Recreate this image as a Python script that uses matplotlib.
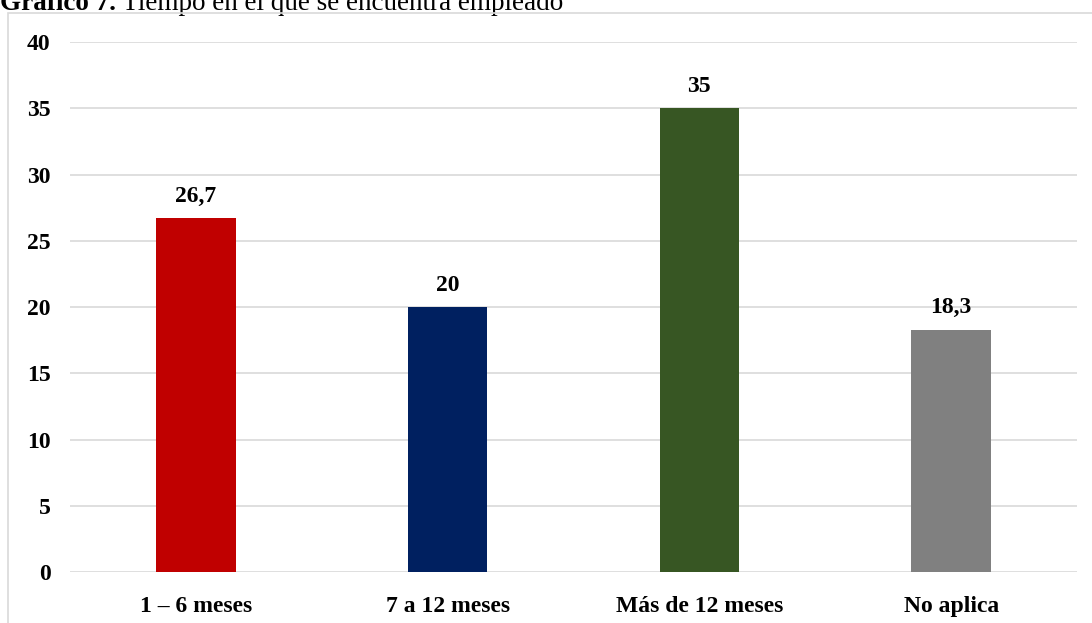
import matplotlib.pyplot as plt
from matplotlib.patches import Rectangle

# datos del gráfico
categorias = ['1 – 6 meses', '7 a 12 meses', 'Más de 12 meses', 'No aplica']
valores = [26.7, 20, 35, 18.3]
etiquetas = ['26,7', '20', '35', '18,3']
colores = ['#C00000', '#002060', '#375623', '#808080']

plt.rcParams['font.family'] = ['Liberation Serif', 'DejaVu Serif']

fig = plt.figure(figsize=(10.92, 6.23), dpi=100)

# marco del área del gráfico
fig.patches.append(Rectangle((8 / 1092, -0.1), 1.2, 1.1 - 13 / 623,
                             transform=fig.transFigure, fill=False,
                             edgecolor='#D9D9D9', linewidth=1.2))

ax = fig.add_axes([70 / 1092, 1 - 572 / 623, 1007 / 1092, 530 / 623])
x = range(len(categorias))
barras = ax.bar(x, valores, width=0.315, color=colores, zorder=3)

for b, txt in zip(barras, etiquetas):
    ax.annotate(txt, (b.get_x() + b.get_width() / 2, b.get_height()),
                xytext=(0, 8), textcoords='offset points',
                ha='center', va='bottom', fontsize=17, fontweight='bold')

ax.set_xlim(-0.5, 3.5)
ax.set_ylim(0, 40)
ax.set_yticks(range(0, 41, 5))
ax.set_xticks(list(x))
ax.set_xticklabels(categorias, fontsize=17, fontweight='bold')
for lbl in ax.get_yticklabels():
    lbl.set_fontsize(17)
    lbl.set_fontweight('bold')
ax.tick_params(axis='both', length=0)
ax.tick_params(axis='y', pad=14)
ax.tick_params(axis='x', pad=17)
ax.grid(axis='y', color='#D9D9D9', linewidth=1.2, zorder=0)
for s in ax.spines.values():
    s.set_visible(False)

# título, cortado en el borde superior
t1 = fig.text(0, 1 - 10 / 623, 'Gráfico 7.', fontsize=19.5, fontweight='bold',
              va='baseline', ha='left')
ax.annotate(' Tiempo en el que se encuentra empleado', xy=(1, 0), xycoords=t1,
            va='bottom', ha='left', fontsize=19.5, annotation_clip=False)

fig.savefig('out.png', dpi=100)
